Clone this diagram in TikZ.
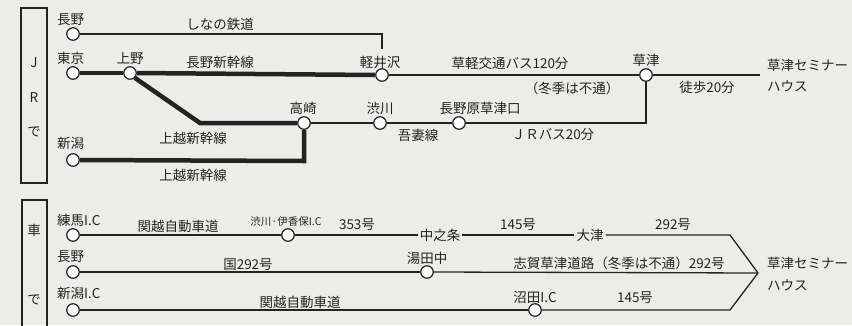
\documentclass[tikz,border=0pt]{standalone}
\usepackage{fontspec}
\setmainfont{Noto Sans CJK JP}
\definecolor{paper}{RGB}{236,236,233}
\definecolor{ink}{RGB}{35,35,35}
\begin{document}
\begin{tikzpicture}[x=1pt,y=-1pt,
  every node/.style={text=ink,font=\fontsize{13.5}{15}\selectfont,inner sep=0pt},
  stn/.style={circle,draw=ink,fill=white,line width=1.2pt,minimum size=12.5pt,inner sep=0pt},
  thickline/.style={draw=ink,line width=4.5pt},
  thinline/.style={draw=ink,line width=1.3pt},
  lab/.style={anchor=center},
  labl/.style={anchor=west},
  small/.style={font=\fontsize{10.5}{12}\selectfont},
  boxline/.style={draw=ink,line width=1.2pt}
]
\fill[paper] (0,0) rectangle (852,325);
\useasboundingbox (0,0) rectangle (852,325);

% JR box
\draw[boxline] (21,8) rectangle (47,183);
\node (tJ) at (34,63) {J};
\node (tR) at (34,98) {R};
\node (tde) at (34,132) {で};

% car box
\draw[boxline] (22,326) -- (22,200) -- (47,200) -- (47,326);
\node (tkuruma) at (34,230) {車};
\node (tde2) at (34,300) {で};

% JR coordinates
\coordinate (shinanoC) at (382,34);
\coordinate (shinanoE) at (382,49);
\coordinate (bend1) at (200,123);
\coordinate (bend2) at (304,161);
\coordinate (busC) at (646,123);
\coordinate (end1) at (760,75);

\node[stn] (nagano) at (73,34) {};
\node[stn] (tokyo) at (73,73) {};
\node[stn] (ueno) at (130,73) {};
\node[stn] (karuizawa) at (382,75) {};
\node[stn] (kusatsu) at (646,75) {};
\node[stn] (takasaki) at (304,123) {};
\node[stn] (shibukawa) at (380,123) {};
\node[stn] (naganohara) at (459,123) {};
\node[stn] (niigata) at (73,160) {};

\begin{scope}[on background layer/.style={}]
\end{scope}

% thick lines
\draw[thickline] (tokyo.east) -- (ueno.west);
\draw[thickline] (ueno.east) -- (karuizawa.west);
\draw[thickline] (ueno.south east) -- (bend1) -- (takasaki.west);
\draw[thickline] (niigata.east) -- (bend2) -- (takasaki.south);

% thin lines
\draw[thinline] (nagano.east) -- (shinanoC) -- (shinanoE);
\draw[thinline] (karuizawa.east) -- (kusatsu.west);
\draw[thinline] (kusatsu.east) -- (end1);
\draw[thinline] (takasaki.east) -- (shibukawa.west);
\draw[thinline] (shibukawa.east) -- (naganohara.west);
\draw[thinline] (naganohara.east) -- (busC) -- (kusatsu.south);

% JR labels
\node[labl] (lnagano) at (57,20) {長野};
\node[labl] (ltokyo) at (57,58) {東京};
\node[lab] (lueno) at (130,58) {上野};
\node[lab] (lshinano) at (220,24) {しなの鉄道};
\node[lab] (lnaganoshin) at (220,62) {長野新幹線};
\node[lab] (ljoetsu1) at (193,138) {上越新幹線};
\node[labl] (lniigata) at (57,143) {新潟};
\node[lab] (ljoetsu2) at (193,175) {上越新幹線};
\node[lab] (lkaruizawa) at (380,62) {軽井沢};
\node[lab] (lkusakaru) at (510,63) {草軽交通バス120分};
\node[lab] (lwinter) at (572,88) {（冬季は不通）};
\node[lab] (lkusatsu) at (646,60) {草津};
\node[lab] (ltoho) at (707,87) {徒歩20分};
\node[labl] (lhouse1a) at (767,65) {草津セミナー};
\node[labl] (lhouse1b) at (767,86) {ハウス};
\node[lab] (ltakasaki) at (303,108) {高崎};
\node[lab] (lshibukawa) at (380,108) {渋川};
\node[lab] (lnaganohara) at (480,108) {長野原草津口};
\node[lab] (lagatsuma) at (418,135) {吾妻線};
\node[lab] (ljrbus) at (553,135) {ＪＲバス20分};

% Car section
\coordinate (meet) at (758,273);
\coordinate (c1) at (730,235);
\coordinate (c3) at (730,310);
\node[lab,inner xsep=2pt] (nakanojo) at (440,235) {中之条};
\node[lab,inner xsep=2pt] (oozu) at (590,235) {大津};

\node[stn] (nerima) at (73,235) {};
\node[stn] (shibukawaIC) at (288,235) {};
\node[stn] (nagano2) at (73,272) {};
\node[stn] (yudanaka) at (427,272) {};
\node[stn] (niigataIC) at (73,310) {};
\node[stn] (numata) at (535,310) {};

\draw[thinline] (nerima.east) -- (shibukawaIC.west);
\draw[thinline] (shibukawaIC.east) -- (nakanojo.west);
\draw[thinline] (nakanojo.east) -- (oozu.west);
\draw[thinline] (oozu.east) -- (c1) -- (meet);
\draw[thinline] (nagano2.east) -- (yudanaka.west);
\draw[thinline] (yudanaka.east) -- (meet);
\draw[thinline] (niigataIC.east) -- (numata.west);
\draw[thinline] (numata.east) -- (c3) -- (meet);

\node[labl] (lnerima) at (57,220) {練馬I.C};
\node[lab] (lkanetsu1) at (178,226) {関越自動車道};
\node[lab,small] (lshibuIC) at (286,222) {渋川·伊香保I.C};
\node[lab] (l353) at (357,225) {353号};
\node[lab] (l145a) at (518,225) {145号};
\node[lab] (l292a) at (673,225) {292号};
\node[labl] (lnagano2) at (57,257) {長野};
\node[lab] (lkoku292) at (248,265) {国292号};
\node[lab] (lyudanaka) at (427,258) {湯田中};
\node[lab] (lshiga) at (619,263) {志賀草津道路（冬季は不通）292号};
\node[labl] (lniigataIC) at (57,293) {新潟I.C};
\node[lab] (lkanetsu2) at (300,302) {関越自動車道};
\node[lab] (lnumata) at (535,297) {沼田I.C};
\node[lab] (l145b) at (635,298) {145号};
\node[labl] (lhouse2a) at (767,263) {草津セミナー};
\node[labl] (lhouse2b) at (767,285) {ハウス};
\end{tikzpicture}
\end{document}
